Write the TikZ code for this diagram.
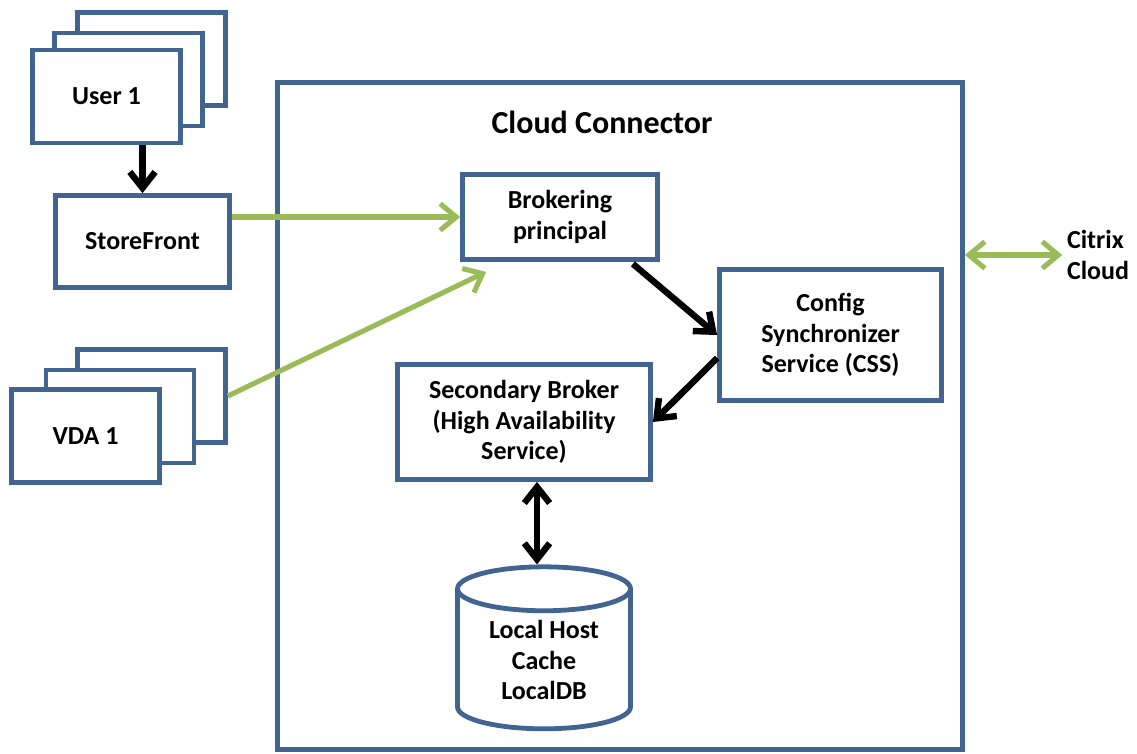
\documentclass[tikz,border=0pt]{standalone}
\usepackage{fontspec}
\setmainfont{Carlito}
\usetikzlibrary{positioning,shapes.geometric,arrows.meta}
\definecolor{boxblue}{RGB}{65,100,145}
\definecolor{flowgreen}{RGB}{155,187,89}

\begin{document}
\begin{tikzpicture}%
  [x=0.75pt,y=-0.75pt,
   font=\bfseries\fontsize{19.5}{23}\selectfont,
   box/.style=
    {draw=boxblue,line width=3.6pt,fill=white,align=center,inner sep=0pt},
   card/.style=
    {box,minimum width=111pt,minimum height=69.75pt},
   flow/.style={flowgreen,line width=3.8pt,
    >={Straight Barb[length=12pt,width=20pt]},->},
   link/.style={line width=4.8pt,
    >={Straight Barb[length=12pt,width=19pt]},->}
  ]
  \useasboundingbox (0,0) rectangle (1137,753);
  % users and desktops
  \node[card] (user3) at (151.5,59) {};
  \node[card] (user2) at (128.5,79.5) {};
  \node[card] (user1) at (106.5,96.5) {User 1};
  \node[box,minimum width=130.5pt,minimum height=69pt] (sf) at (142.5,241.5) {StoreFront};
  \node[card] (vda3) at (151.5,396) {};
  \node[card] (vda2) at (120,416.5) {};
  \node[card] (vda1) at (85.5,436) {VDA 1};
  % connector
  \node[box,minimum width=513.75pt,minimum height=500.25pt] (cc) at (620,416) {};
  \node (cctitle) at (602,122) {\fontsize{24}{28}\selectfont Cloud Connector};
  \node[box,minimum width=146.25pt,minimum height=63.75pt] (bp) at (560,217) {Brokering\\principal};
  \node[box,minimum width=166.5pt,minimum height=98.25pt] (css) at (830.5,335) {Config\\Synchronizer\\Service (CSS)};
  \node[box,minimum width=189.75pt,minimum height=86.25pt] (sec) at (524,422) {Secondary Broker\\(High Availability\\Service)};
  \node[box,cylinder,shape border rotate=90,aspect=0.4,
    minimum width=129.75pt,minimum height=121.5pt] (lhc) at (544,660) {Local Host\\Cache\\LocalDB};
  \node[align=left] (cloud) at (1098,255) {Citrix\\Cloud};
  % connectors
  \draw[link] (sf.north |- user1.south) -- (sf.north);
  \draw[flow] (sf.east |- bp) -- (bp.west);
  \draw[flow] (vda3.east) -- ([shift={(26,10)}]bp.south west);
  \draw[link] ([shift={(-27,2)}]bp.south east) -- (css.west);
  \draw[link] ([shift={(0,23)}]css.west) -- (sec.east);
  \draw[link,<->] ([shift={(-7,0)}]lhc.north |- sec.south) -- ([shift={(-7,0)}]lhc.north);
  \draw[flow,<->] (cc.east |- cloud) -- (cloud.west);
\end{tikzpicture}
\end{document}
